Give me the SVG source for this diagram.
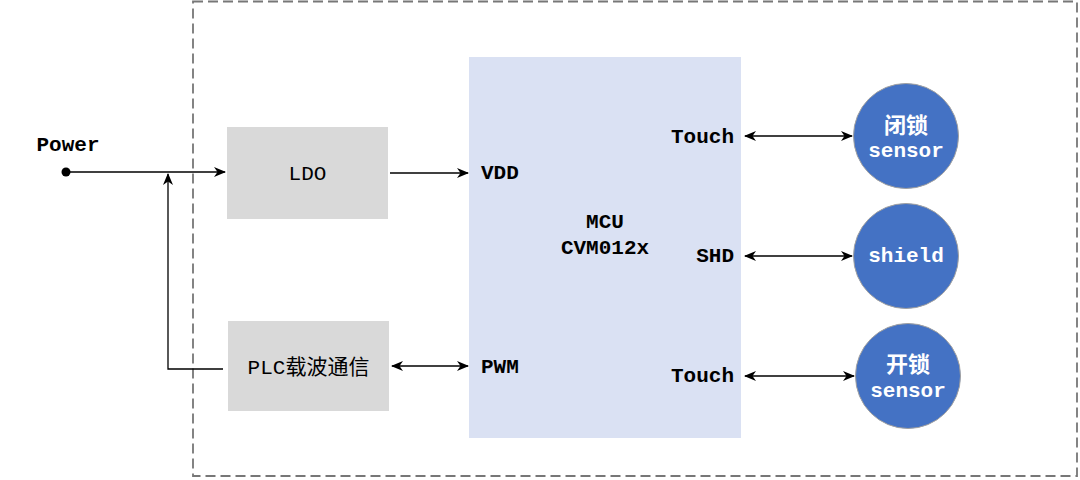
<svg xmlns="http://www.w3.org/2000/svg" width="1080" height="480" viewBox="0 0 1080 480">
<style>
.mono{font-family:"Liberation Mono","Noto Sans CJK SC",monospace;font-size:21px;fill:#000}
.b{font-weight:bold}
.w{fill:#fff}
.cjk{font-family:"Noto Sans CJK SC","Noto Sans",sans-serif;font-weight:bold;font-size:22px;fill:#fff}
.line{stroke:#000;stroke-width:1.3;fill:none}
.gray{fill:#d9d9d9}
.circ{fill:#4472c4;stroke:#a0a0a0;stroke-width:1}
</style>
<defs>
<marker id="ah" viewBox="0 0 12 10" refX="11" refY="5" markerWidth="12" markerHeight="10" markerUnits="userSpaceOnUse" orient="auto-start-reverse">
<path d="M0,0 L12,5 L0,10 L3.5,5 z" fill="#000"/>
</marker>
</defs>
<rect id="boundary" x="193" y="1.5" width="884" height="474.5" fill="none" stroke="#777" stroke-width="1.8" stroke-dasharray="10 5"/>
<g id="mcu">
<rect x="469" y="57" width="272" height="381" fill="#dae1f3"/>
<text class="mono b" x="605" y="228" text-anchor="middle">MCU</text>
<text class="mono b" x="605" y="254" text-anchor="middle">CVM012x</text>
<text class="mono b" x="481" y="179">VDD</text>
<text class="mono b" x="481" y="373">PWM</text>
<text class="mono b" x="734" y="143" text-anchor="end">Touch</text>
<text class="mono b" x="734" y="262" text-anchor="end">SHD</text>
<text class="mono b" x="734" y="382" text-anchor="end">Touch</text>
</g>
<g id="ldo">
<rect class="gray" x="227" y="127" width="161" height="92"/>
<text class="mono" x="307.5" y="180" text-anchor="middle">LDO</text>
</g>
<g id="plc">
<rect class="gray" x="228" y="321" width="161" height="90"/>
<text class="mono" x="308.5" y="374" text-anchor="middle">PLC载波通信</text>
</g>
<g id="power">
<circle cx="66" cy="172" r="4.5" fill="#000"/>
<text class="mono b" x="68" y="151" text-anchor="middle">Power</text>
</g>
<g id="sensor-close">
<circle class="circ" cx="906" cy="136" r="52.5"/>
<text class="cjk" x="906" y="133" text-anchor="middle">闭锁</text>
<text class="mono b w" x="906" y="157" text-anchor="middle">sensor</text>
</g>
<g id="shield">
<circle class="circ" cx="906" cy="256" r="52.5"/>
<text class="mono b w" x="906" y="262" text-anchor="middle">shield</text>
</g>
<g id="sensor-open">
<circle class="circ" cx="908" cy="376" r="52.5"/>
<text class="cjk" x="908" y="372" text-anchor="middle">开锁</text>
<text class="mono b w" x="908" y="397" text-anchor="middle">sensor</text>
</g>
<g id="connectors">
<path class="line" d="M66,172 H225" marker-end="url(#ah)"/>
<path class="line" d="M390,173 H468" marker-end="url(#ah)"/>
<path class="line" d="M223,369 H168 V174" marker-end="url(#ah)"/>
<path class="line" d="M392,366 H468" marker-start="url(#ah)" marker-end="url(#ah)"/>
<path class="line" d="M745,136 H852" marker-start="url(#ah)" marker-end="url(#ah)"/>
<path class="line" d="M745,256 H852" marker-start="url(#ah)" marker-end="url(#ah)"/>
<path class="line" d="M745,376 H854" marker-start="url(#ah)" marker-end="url(#ah)"/>
</g>
</svg>
